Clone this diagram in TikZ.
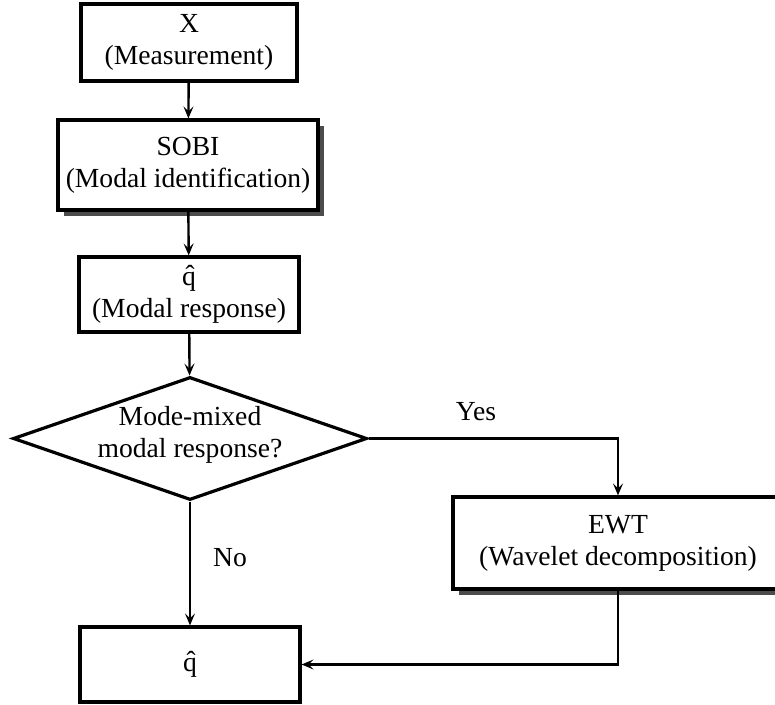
\documentclass[tikz,border=0pt]{standalone}
\usepackage{fontspec}
\setmainfont{Liberation Serif}
\usepackage{tikz}
\usetikzlibrary{shapes.geometric,shadows,arrows.meta}

\begin{document}
\begin{tikzpicture}[x=0.5pt,y=-0.5pt,
  font=\fontsize{13.8}{16}\selectfont,
  box/.style={draw,line width=1.6pt,fill=white,align=center,inner sep=0pt},
  shadowbox/.style={box,drop shadow={shadow xshift=3.2pt,shadow yshift=-2.8pt,fill=black!70,opacity=1}},
  decision/.style={draw,line width=1.6pt,diamond,inner sep=0pt,minimum width=177pt,minimum height=61.5pt},
  link/.style={line width=1.2pt,-{Stealth[length=6pt,width=5pt,inset=2.5pt]}}]
\useasboundingbox (0,0) rectangle (775,705);
\node[box,minimum width=108pt,minimum height=38.5pt] (meas) at (189,42.5) {X\\(Measurement)};
\node[shadowbox,minimum width=130pt,minimum height=45pt] (sobi) at (188,165) {SOBI\\(Modal identification)};
\node[box,minimum width=110pt,minimum height=37.5pt] (resp) at (189,294.5) {\^{q}\\(Modal response)};
\node[decision] (mix) at (190,438.5) {};
\node[align=center] (mixtxt) at (190,434.5) {Mode-mixed\\modal response?};
\node[shadowbox,minimum width=165pt,minimum height=46pt] (ewt) at (618,543) {EWT\\(Wavelet decomposition)};
\node[box,minimum width=110pt,minimum height=37.5pt] (out) at (190,664.5) {\^{q}};
\draw[link] (meas) -- (sobi);
\draw[link] (sobi) -- (resp);
\draw[link] (resp) -- (mix);
\draw[link] (mix.east) -| (ewt.north);
\draw[link] (mix) -- (out);
\draw[link] (ewt.south) |- (out.east);
\node (yes) at (476,412) {Yes};
\node (no) at (230,558) {No};
\end{tikzpicture}
\end{document}
